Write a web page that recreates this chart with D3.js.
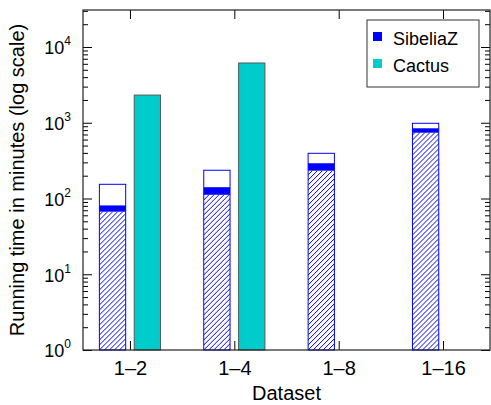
<!DOCTYPE html>
<html>
<head>
<meta charset="utf-8">
<script src="https://cdn.jsdelivr.net/npm/d3@7"></script>
<style>
  body { margin: 0; background: #fff; }
  svg { display: block; font-family: "Liberation Sans", Arial, Helvetica, sans-serif; }
</style>
</head>
<body>
<div id="chart"></div>
<script>
// data (running time in minutes)
var categories = ["1\u20132", "1\u20134", "1\u20138", "1\u201316"];
// SibeliaZ is a stack of three stages: hatched, solid, open
var sibHatched = [67, 112, 233, 739];
var sibSolid = [14, 29, 59, 106];
var sibOpen = [73, 95, 103, 139];
var cactus = [2320, 6150, null, null];
var decades = [1, 10, 100, 1000, 10000];
var seriesNames = ["SibeliaZ", "Cactus"];

var svgWidth = 491;
var svgHeight = 405;
var margin = { top: 10, right: 1, bottom: 55, left: 83 };
var width = svgWidth - margin.left - margin.right;
var height = svgHeight - margin.top - margin.bottom;

var blue = "#0000ff";
var teal = "#00cccc";

var svg = d3.select("#chart")
  .append("svg")
  .attr("width", svgWidth)
  .attr("height", svgHeight);

// hatch pattern
var defs = svg.append("defs");
var pat = defs.append("pattern")
  .attr("id", "hatch")
  .attr("patternUnits", "userSpaceOnUse")
  .attr("width", 5)
  .attr("height", 5);
pat.append("rect").attr("width", 5).attr("height", 5).attr("fill", "#fff");
pat.append("path")
  .attr("d", "M0,5 L5,0 M-1,1 L1,-1 M4,6 L6,4")
  .attr("stroke", blue)
  .attr("stroke-width", 1);

var chartGroup = svg.append("g")
  .attr("transform", `translate(${margin.left}, ${margin.top})`);

var x = d3.scalePoint()
  .domain(categories)
  .range([0, width])
  .padding(0.45);

var y = d3.scaleLog()
  .domain([1, 30800])
  .range([height, 0]);

var step = x.step();
var barW = step * 0.252;
var gap = step * 0.082;

// SibeliaZ stacked bars
var sibData = categories.map(function(c, i) {
  var a = sibHatched[i], b = a + sibSolid[i], t = b + sibOpen[i];
  return { cat: c, a: a, b: b, t: t };
});

var sib = chartGroup.selectAll("g.sib")
  .data(sibData)
  .enter()
  .append("g")
  .attr("class", "sib")
  .attr("transform", d => `translate(${x(d.cat) - gap / 2 - barW}, 0)`);

sib.append("rect")
  .attr("y", d => y(d.a))
  .attr("width", barW)
  .attr("height", d => height - y(d.a))
  .attr("fill", "url(#hatch)");

sib.append("rect")
  .attr("y", d => y(d.b))
  .attr("width", barW)
  .attr("height", d => y(d.a) - y(d.b))
  .attr("fill", blue);

sib.append("rect")
  .attr("y", d => y(d.t))
  .attr("width", barW)
  .attr("height", d => height - y(d.t))
  .attr("fill", "none")
  .attr("stroke", blue)
  .attr("stroke-width", 1);

// Cactus bars
chartGroup.selectAll("rect.cactus")
  .data(categories.map((c, i) => ({ cat: c, v: cactus[i] })).filter(d => d.v != null))
  .enter()
  .append("rect")
  .attr("class", "cactus")
  .attr("x", d => x(d.cat) + gap / 2)
  .attr("y", d => y(d.v))
  .attr("width", barW)
  .attr("height", d => height - y(d.v))
  .attr("fill", teal)
  .attr("stroke", "#505a5a")
  .attr("stroke-width", 1);

// minor tick values
var minors = [];
decades.slice(0, -1).forEach(function(d) {
  for (var k = 2; k <= 9; k++) minors.push(d * k);
});
minors = minors.concat([20000, 30000].filter(v => v <= y.domain()[1]));

function tickStyle(g) {
  g.select(".domain").remove();
  g.selectAll("line").attr("stroke", "#000");
}

// left axis
chartGroup.append("g")
  .call(d3.axisLeft(y).tickValues(minors).tickSize(-5).tickFormat(""))
  .call(tickStyle);

var leftMajor = chartGroup.append("g")
  .call(d3.axisLeft(y).tickValues(decades).tickSize(-9).tickPadding(12).tickFormat(""))
  .call(tickStyle);

leftMajor.selectAll(".tick text")
  .attr("font-size", 18)
  .attr("fill", "#000")
  .attr("dy", "0.38em")
  .each(function(d) {
    var t = d3.select(this);
    t.append("tspan").text("10");
    t.append("tspan")
      .attr("font-size", 12)
      .attr("dy", "-0.75em")
      .text(Math.round(Math.log10(d)));
  });

// right axis
chartGroup.append("g")
  .attr("transform", `translate(${width}, 0)`)
  .call(d3.axisRight(y).tickValues(minors).tickSize(-5).tickFormat(""))
  .call(tickStyle);

chartGroup.append("g")
  .attr("transform", `translate(${width}, 0)`)
  .call(d3.axisRight(y).tickValues(decades).tickSize(-9).tickFormat(""))
  .call(tickStyle);

// bottom axis
var bottom = chartGroup.append("g")
  .attr("transform", `translate(0, ${height})`)
  .call(d3.axisBottom(x).tickSize(-9))
  .call(tickStyle);

bottom.selectAll(".tick text")
  .attr("font-size", 20)
  .attr("fill", "#000")
  .attr("y", 25)
  .attr("dy", 0);

// top axis
chartGroup.append("g")
  .call(d3.axisTop(x).tickSize(-9).tickFormat(""))
  .call(tickStyle);

// frame
chartGroup.append("rect")
  .attr("width", width)
  .attr("height", height)
  .attr("fill", "none")
  .attr("stroke", "#222")
  .attr("stroke-width", 1.2);

// legend
var legend = chartGroup.append("g")
  .attr("transform", `translate(${367 - margin.left}, ${20 - margin.top})`);

legend.append("rect")
  .attr("width", 112)
  .attr("height", 67)
  .attr("fill", "#fff")
  .attr("stroke", "#333")
  .attr("stroke-width", 1);

var items = legend.selectAll("g.item")
  .data(seriesNames)
  .enter()
  .append("g")
  .attr("class", "item")
  .attr("transform", (d, i) => `translate(6, ${12 + i * 27})`);

items.append("rect")
  .attr("width", 9)
  .attr("height", 9)
  .attr("fill", (d, i) => i === 0 ? blue : teal);

items.append("text")
  .attr("x", 20)
  .attr("y", 13)
  .attr("font-size", 18)
  .text(d => d);

// axis labels
svg.append("text")
  .attr("transform", "rotate(-90)")
  .attr("x", -(margin.top + height / 2))
  .attr("y", 24)
  .attr("text-anchor", "middle")
  .attr("font-size", 20)
  .text("Running time in minutes (log scale)");

svg.append("text")
  .attr("x", margin.left + width / 2)
  .attr("y", 400)
  .attr("text-anchor", "middle")
  .attr("font-size", 20)
  .text("Dataset");
</script>
</body>
</html>
